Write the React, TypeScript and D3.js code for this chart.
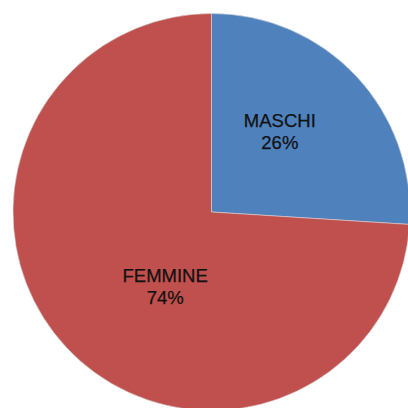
import React from "react";
import * as d3 from "d3";

const categories = ["MASCHI", "FEMMINE"];
const values = [26, 74];
const colors = ["#4F81BD", "#C0504D"];
const labelOffsets = [
  [-4, -14],
  [26, 5],
];

export default function App() {
  const W = 408;
  const H = 408;
  const cx = 211.5;
  const cy = 212;
  const r = 198.5;
  const pie = d3.pie<number>().sort(null).value((d) => d);
  const arcs = pie(values);
  const arc = d3.arc<d3.PieArcDatum<number>>().innerRadius(0).outerRadius(r);
  const labelArc = d3
    .arc<d3.PieArcDatum<number>>()
    .innerRadius(r * 0.5)
    .outerRadius(r * 0.5);
  const total = d3.sum(values);
  return (
    <svg
      width={W}
      height={H}
      style={{ position: "absolute", left: 0, top: 0, display: "block", background: "#fff" }}
    >
      <g transform={`translate(${cx},${cy})`}>
        {arcs.map((a, i) => (
          <path key={i} d={arc(a) || ""} fill={colors[i]} stroke="#d9d9d9" strokeWidth={0.6} />
        ))}
        {arcs.map((a, i) => {
          const [x, y] = labelArc.centroid(a);
          const lx = x + labelOffsets[i][0];
          const ly = y + labelOffsets[i][1];
          return (
            <text
              key={i}
              x={lx}
              y={ly}
              textAnchor="middle"
              fontFamily="'Liberation Sans', Arial, sans-serif"
              fontSize={18.5}
              fill="#111"
              stroke="#111"
              strokeWidth={0.25}
            >
              <tspan x={lx} dy="-0.15em">{categories[i]}</tspan>
              <tspan x={lx} dy="1.18em">{Math.round((values[i] / total) * 100)}%</tspan>
            </text>
          );
        })}
      </g>
    </svg>
  );
}
